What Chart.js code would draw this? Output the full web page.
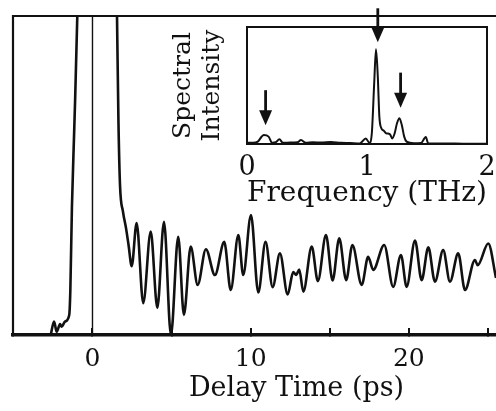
<!DOCTYPE html>
<html><head><meta charset="utf-8">
<script src="https://cdn.jsdelivr.net/npm/chart.js@4.4.1/dist/chart.umd.min.js"></script>
<style>
html,body{margin:0;padding:0;background:#fff;overflow:hidden;width:496px;height:411px}
#wrap{position:relative;width:496px;height:411px;overflow:hidden;background:#fff}
#main{position:absolute;left:0;top:0}
#inset{position:absolute;left:160px;top:0}
</style></head><body>
<div id="wrap">
<canvas id="main" width="590" height="411"></canvas>
<canvas id="inset" width="350" height="215"></canvas>
</div>
<script>
// ---- Main panel: time-domain signal (arbitrary units) ----
const delayTime = [-2.64,-2.43,-2.26,-2.05,-1.95,-1.74,-1.47,-1.40,-1.30,-1.15,-0.96,-0.7,0.4,1.3,1.55,1.64,1.74,1.93,2.12,2.28,2.48,2.79,3.21,3.68,4.10,4.52,4.96,5.42,5.78,6.21,6.65,7.17,7.74,8.33,8.74,9.22,9.53,10.02,10.48,10.94,11.39,11.85,12.34,12.69,12.88,13.07,13.33,13.86,14.25,14.76,15.18,15.60,16.04,16.43,17.02,17.43,17.75,18.44,19.01,19.50,19.86,20.39,20.81,21.23,21.65,22.17,22.60,23.12,23.55,24.18,24.35,25.02,25.51];
const signal = [0,4.2,1.0,3.4,2.6,4.2,6.3,14,40,65,100,180,260,180,100,67.4,47,38.6,33.5,28.2,21.6,35.1,10.0,32.4,8.5,35.5,0,30.8,6.3,27.7,15.7,26.9,18.8,29.2,14.1,31.3,18.8,37.6,13.3,29.2,15.0,25.6,12.7,19.7,18.8,20.5,13.6,27.7,16.9,31.3,17.1,30.3,17.2,28.2,15.7,24.5,20.4,28.2,15.1,25.1,15.1,29.6,17.2,27.5,16.7,26.6,16.7,25.6,14.1,23.5,21.9,28.7,17.9];
const zeroLineX = [0, 0];
const zeroLineY = [0, 100];
const xTickLabels = [0, 10, 20];

// ---- Inset: spectrum ----
const freq = [0,0.05,0.09,0.12,0.14,0.18,0.21,0.24,0.27,0.30,0.36,0.42,0.45,0.49,0.55,0.62,0.70,0.78,0.86,0.94,0.99,1.02,1.04,1.06,1.075,1.09,1.103,1.12,1.14,1.16,1.19,1.21,1.23,1.25,1.27,1.29,1.31,1.33,1.39,1.45,1.49,1.51,1.6,1.7,1.8,1.9,2.0];
const spectrum = [1,1,2,6,7.7,6.3,1,1.5,4,1,1.2,1.5,3.4,1,1.5,1.2,1.8,1,0.8,0.5,4.8,1,9,52,81,57.5,23.4,13.4,11.4,9.1,8.5,4.8,9,17.7,22,16.2,6.3,2,0.6,0.8,6,0.6,0.5,0.4,0.3,0.3,0.3];
const insetTickLabels = [0, 1, 2];
const arrowFreq = [0.155, 1.09, 1.28];
const arrowTail = [46, 116, 61];
const arrowTip = [16, 87, 31];

Chart.defaults.font.family = "'DejaVu Serif', serif";
Chart.defaults.color = '#111';

const framePlugin = {
  id: 'frame',
  afterDatasetsDraw(chart) {
    const {ctx, chartArea: a} = chart;
    ctx.save();
    ctx.strokeStyle = '#111';
    ctx.lineWidth = 2.2;
    ctx.beginPath();
    ctx.moveTo(a.left, a.bottom);
    ctx.lineTo(a.left, a.top);
    ctx.lineTo(a.right, a.top);
    ctx.stroke();
    ctx.restore();
  }
};

new Chart(document.getElementById('main'), {
  type: 'line',
  data: {
    datasets: [
      { data: delayTime.map((t, i) => ({x: t, y: signal[i]})), borderColor: '#111', borderWidth: 2.6,
        pointRadius: 0, cubicInterpolationMode: 'monotone', fill: false },
      { data: zeroLineX.map((x, i) => ({x: x, y: zeroLineY[i]})), borderColor: '#111', borderWidth: 1.4,
        pointRadius: 0, fill: false }
    ]
  },
  options: {
    responsive: false, animation: false, events: [],
    layout: {padding: {left: 13, top: 16, right: 10, bottom: 0}},
    plugins: {legend: {display: false}, tooltip: {enabled: false}},
    scales: {
      x: {
        type: 'linear', min: -5.025, max: 30.82,
        ticks: {stepSize: 5, autoSkip: false, maxRotation: 0, padding: 16, color: '#111', font: {size: 25},
                callback: v => xTickLabels.includes(v) ? String(v) : ''},
        grid: {drawOnChartArea: false, drawTicks: true, tickLength: -7, color: '#111', lineWidth: 2},
        border: {display: true, color: '#111', width: 3.5},
        title: {display: true, text: 'Delay Time (ps)', color: '#111', font: {size: 27}, padding: {top: 0, bottom: 6}},
        afterFit: s => { s.height = 76; s.paddingLeft = 0; s.paddingRight = 0; }
      },
      y: {display: false, min: 0, max: 100}
    }
  },
  plugins: [framePlugin]
});

const insetPlugin = {
  id: 'insetDeco',
  afterDatasetsDraw(chart) {
    const {ctx, chartArea: a, scales} = chart;
    ctx.save();
    ctx.strokeStyle = '#111';
    ctx.lineWidth = 2;
    ctx.strokeRect(a.left, a.top, a.right - a.left, a.bottom - a.top);
    ctx.fillStyle = '#111';
    for (let i = 0; i < arrowFreq.length; i++) {
      const x = scales.x.getPixelForValue(arrowFreq[i]);
      const y0 = scales.y.getPixelForValue(arrowTail[i]);
      const y1 = scales.y.getPixelForValue(arrowTip[i]);
      const head = 15, hw = 6.5;
      ctx.lineWidth = 2.8;
      ctx.beginPath();
      ctx.moveTo(x, y0);
      ctx.lineTo(x, y1 - head + 2);
      ctx.stroke();
      ctx.beginPath();
      ctx.moveTo(x - hw, y1 - head);
      ctx.lineTo(x + hw, y1 - head);
      ctx.lineTo(x, y1);
      ctx.closePath();
      ctx.fill();
    }
    ctx.restore();
  }
};

new Chart(document.getElementById('inset'), {
  type: 'line',
  data: {
    datasets: [
      { data: freq.map((f, i) => ({x: f, y: spectrum[i]})), borderColor: '#111', borderWidth: 2,
        pointRadius: 0, cubicInterpolationMode: 'monotone', fill: false }
    ]
  },
  options: {
    responsive: false, animation: false, events: [],
    layout: {padding: {left: 9, top: 27, right: 23, bottom: 0}},
    plugins: {legend: {display: false}, tooltip: {enabled: false}},
    scales: {
      x: {
        type: 'linear', min: 0, max: 2,
        ticks: {stepSize: 1, autoSkip: false, maxRotation: 0, padding: 8, color: '#111', font: {size: 27},
                callback: v => insetTickLabels.includes(v) ? String(v) : ''},
        grid: {display: false, drawTicks: false},
        border: {display: false},
        title: {display: true, text: 'Frequency (THz)', color: '#111', font: {size: 28}, padding: {top: 0, bottom: 4}},
        afterFit: s => { s.height = 71; }
      },
      y: {
        min: 0, max: 100,
        ticks: {display: false},
        grid: {display: false, drawTicks: false},
        border: {display: false},
        title: {display: true, text: ['Spectral', 'Intensity'], color: '#111', font: {size: 25, lineHeight: 1.16}, padding: {top: 0, bottom: 0}},
        afterFit: s => { s.width = 78; }
      }
    }
  },
  plugins: [insetPlugin]
});
</script>
</body></html>
